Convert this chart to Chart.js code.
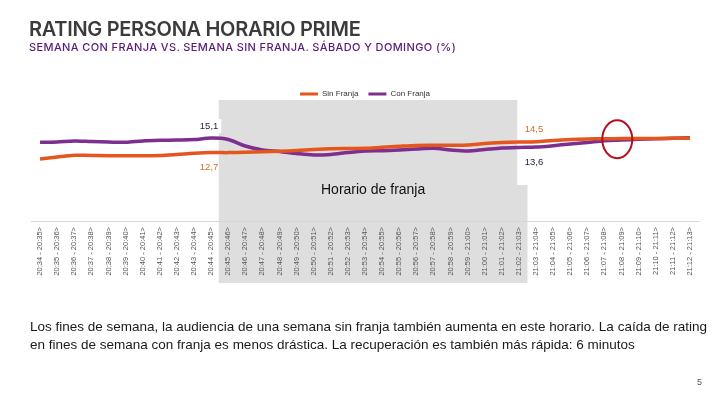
<!DOCTYPE html>
<html>
<head>
<meta charset="utf-8">
<script src="https://cdn.jsdelivr.net/npm/chart.js@4/dist/chart.umd.min.js"></script>
<style>
  body { margin: 0; background: #fff; }
  #page { position: relative; width: 720px; height: 405px; overflow: hidden; background: #fff; }
  #chartBox { position: absolute; left: 0; top: 0; width: 720px; height: 405px; }
  .title { position: absolute; left: 29px; top: 17px; font-family: Inter, "Noto Sans", sans-serif; font-weight: 600; font-size: 20px; color: #3b3b3b; letter-spacing: -0.3px; }
  .subtitle { position: absolute; left: 29px; top: 40px; font-family: Inter, "Noto Sans", sans-serif; font-weight: 500; font-size: 11px; color: #5a1b78; letter-spacing: 0.38px; }
  .note { position: absolute; left: 30px; top: 318px; width: 690px; font-family: "Liberation Sans", Arial, sans-serif; font-size: 13.5px; line-height: 18px; color: #1a1a1a; white-space: nowrap; }
  .pagenum { position: absolute; left: 697px; top: 377px; font-family: "Liberation Sans", Arial, sans-serif; font-size: 9px; color: #555; }
</style>
</head>
<body>
<div id="page">
  <div id="chartBox"><canvas id="myChart" width="720" height="405"></canvas></div>
  <div class="title">RATING PERSONA HORARIO PRIME</div>
  <div class="subtitle">SEMANA CON FRANJA VS. SEMANA SIN FRANJA. SÁBADO Y DOMINGO (%)</div>
  <div class="note">Los fines de semana, la audiencia de una semana sin franja también aumenta en este horario. La caída de rating<br>en fines de semana con franja es menos drástica. La recuperación es también más rápida: 6 minutos</div>
  <div class="pagenum">5</div>
</div>
<script>
// setup
const minutes = [
  '20:34 - 20:35>', '20:35 - 20:36>', '20:36 - 20:37>', '20:37 - 20:38>', '20:38 - 20:39>',
  '20:39 - 20:40>', '20:40 - 20:41>', '20:41 - 20:42>', '20:42 - 20:43>', '20:43 - 20:44>',
  '20:44 - 20:45>', '20:45 - 20:46>', '20:46 - 20:47>', '20:47 - 20:48>', '20:48 - 20:49>',
  '20:49 - 20:50>', '20:50 - 20:51>', '20:51 - 20:52>', '20:52 - 20:53>', '20:53 - 20:54>',
  '20:54 - 20:55>', '20:55 - 20:56>', '20:56 - 20:57>', '20:57 - 20:58>', '20:58 - 20:59>',
  '20:59 - 21:00>', '21:00 - 21:01>', '21:01 - 21:02>', '21:02 - 21:03>', '21:03 - 21:04>',
  '21:04 - 21:05>', '21:05 - 21:06>', '21:06 - 21:07>', '21:07 - 21:08>', '21:08 - 21:09>',
  '21:09 - 21:10>', '21:10 - 21:11>', '21:11 - 21:12>', '21:12 - 21:13>'
];
const sinFranja = [
  11.62, 11.95, 12.25, 12.20, 12.17, 12.17, 12.17, 12.20, 12.37, 12.57,
  12.70, 12.68, 12.73, 12.82, 12.92, 13.03, 13.20, 13.33, 13.37, 13.40,
  13.57, 13.73, 13.87, 13.90, 13.92, 13.95, 14.20, 14.35, 14.45, 14.50,
  14.72, 14.88, 14.97, 15.00, 15.02, 15.05, 15.05, 15.06, 15.06
];
const conFranja = [
  14.40, 14.45, 14.62, 14.53, 14.45, 14.40, 14.62, 14.73, 14.78, 14.85,
  15.10, 14.87, 13.78, 13.12, 12.87, 12.53, 12.28, 12.37, 12.70, 12.95,
  13.00, 13.12, 13.28, 13.40, 13.12, 12.95, 13.20, 13.45, 13.55, 13.60,
  13.83, 14.12, 14.37, 14.67, 14.78, 14.90, 15.00, 15.08, 15.17
];
const seriesNames = ['Sin Franja', 'Con Franja'];
const seriesColors = ['#e4561d', '#7d2e8e'];
const labelColors = ['#d2702e', '#1f1f45'];
const labelIdx = [10, 29];       // where the value labels sit
const franjaFrom = 11, franjaTo = 28;   // shaded "Horario de franja"
const circleAt = 33.75;          // red ring where the lines cross

function fmt(v) { return v.toFixed(1).replace('.', ','); }

// gray band behind the franja minutes, value labels, red ring
const franjaPlugin = {
  id: 'franja',
  beforeDraw(chart) {
    const x = chart.scales.x, ca = chart.chartArea, ctx = chart.ctx;
    const step = x.getPixelForValue(1) - x.getPixelForValue(0);
    const left = x.getPixelForValue(franjaFrom) - step * 0.55;
    const rightTop = x.getPixelForValue(franjaTo) - step * 0.1;
    const rightBot = x.getPixelForValue(franjaTo) + step * 0.5;
    const top = ca.top - 8;
    const mid = ca.bottom - 36;
    ctx.save();
    ctx.fillStyle = '#dedede';
    ctx.fillRect(left, top, rightTop - left, mid - top);
    ctx.fillRect(left, mid, rightBot - left, x.bottom + 1 - mid);
    ctx.fillStyle = '#111';
    ctx.font = '14px "Liberation Sans", Arial, sans-serif';
    ctx.textAlign = 'center';
    ctx.textBaseline = 'middle';
    ctx.fillText('Horario de franja', (left + rightBot) / 2, ca.bottom - 31);
    ctx.restore();
  },
  afterDatasetsDraw(chart) {
    const x = chart.scales.x, y = chart.scales.y, ctx = chart.ctx;
    ctx.save();
    ctx.font = '9.5px "Liberation Sans", Arial, sans-serif';
    ctx.textAlign = 'center';
    ctx.textBaseline = 'middle';
    labelIdx.forEach(function (i) {
      const px = x.getPixelForValue(i) - 2;
      const hiSin = sinFranja[i] > conFranja[i];
      const pairs = [[sinFranja[i], labelColors[0], hiSin], [conFranja[i], labelColors[1], !hiSin]];
      pairs.forEach(function (p) {
        const py = y.getPixelForValue(p[0]) + (p[2] ? -12 : 15);
        const txt = fmt(p[0]);
        if (i === labelIdx[0] && p[2]) {
          const w = ctx.measureText(txt).width;
          ctx.fillStyle = '#fff';
          ctx.fillRect(px - w / 2 - 3, py - 7, w + 6, 14);
        }
        ctx.fillStyle = p[1];
        ctx.fillText(txt, px, py);
      });
    });
    // red ring
    const cx = x.getPixelForValue(circleAt);
    const cy = y.getPixelForValue((sinFranja[34] + conFranja[34]) / 2);
    ctx.strokeStyle = '#b3101e';
    ctx.lineWidth = 2;
    ctx.beginPath();
    ctx.ellipse(cx, cy, 15, 19, 0, 0, Math.PI * 2);
    ctx.stroke();
    ctx.restore();
  }
};

const data = {
  labels: minutes,
  datasets: [{
    label: seriesNames[0],
    data: sinFranja,
    borderColor: seriesColors[0],
    backgroundColor: seriesColors[0],
    borderWidth: 3.5,
    pointRadius: 0,
    tension: 0.3
  }, {
    label: seriesNames[1],
    data: conFranja,
    borderColor: seriesColors[1],
    backgroundColor: seriesColors[1],
    borderWidth: 3.5,
    pointRadius: 0,
    tension: 0.3
  }]
};

// config
const config = {
  type: 'line',
  data,
  plugins: [franjaPlugin],
  options: {
    responsive: false,
    animation: false,
    layout: { padding: { left: 31.5, right: 21.5, top: 80, bottom: 123 } },
    plugins: {
      tooltip: { enabled: false },
      legend: {
        position: 'top',
        labels: {
          boxWidth: 18,
          boxHeight: 3,
          padding: 10,
          color: '#333',
          font: { family: '"Liberation Sans", Arial, sans-serif', size: 8 },
          generateLabels(chart) {
            return Chart.defaults.plugins.legend.labels.generateLabels(chart).map(function (l) {
              l.lineWidth = 0;
              return l;
            });
          }
        }
      }
    },
    scales: {
      x: {
        offset: true,
        grid: { display: false, drawTicks: false },
        border: { display: true, color: '#d6d6d6', width: 1 },
        ticks: {
          autoSkip: false,
          maxRotation: 90,
          minRotation: 90,
          padding: 6,
          color: '#555',
          font: { family: '"Liberation Sans", Arial, sans-serif', size: 7.5 }
        },
        afterFit(scale) { scale.height = 61; }
      },
      y: {
        display: false,
        min: 1.28,
        max: 20.12
      }
    }
  }
};

// render init block
const myChart = new Chart(document.getElementById('myChart'), config);
</script>
</body>
</html>
